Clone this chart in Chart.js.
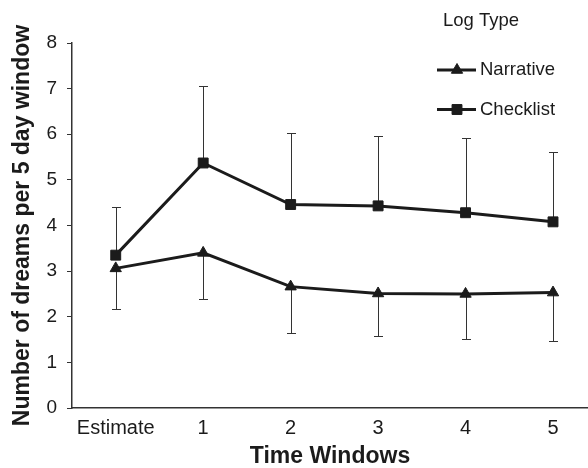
<!DOCTYPE html>
<html>
<head>
<meta charset="utf-8">
<script src="https://cdn.jsdelivr.net/npm/chart.js@4"></script>
<style>
html, body { margin: 0; padding: 0; background: #fff; }
</style>
</head>
<body>
<canvas id="dreamChart" width="588" height="468"></canvas>
<script>
const categories = ['Estimate', '1', '2', '3', '4', '5'];
const narrative = [3.06, 3.40, 2.66, 2.51, 2.50, 2.53];
const narrativeLow = [2.16, 2.38, 1.64, 1.58, 1.51, 1.47];
const checklist = [3.35, 5.37, 4.46, 4.43, 4.28, 4.08];
const checklistHigh = [4.41, 7.05, 6.02, 5.96, 5.91, 5.62];
const yTicks = [0, 1, 2, 3, 4, 5, 6, 7, 8];

const ink = '#1b1b1b';
const family = '"Liberation Sans", Arial, sans-serif';

// error bars: one-sided whiskers drawn through the chart scales
const errorBars = {
    id: 'errorBars',
    beforeDatasetsDraw(chart) {
        const { ctx, scales: { x, y } } = chart;
        ctx.save();
        ctx.strokeStyle = '#333';
        ctx.lineWidth = 1;
        chart.data.datasets.forEach(ds => {
            ds.errEnd.forEach((v, i) => {
                const px = Math.round(x.getPixelForValue(i)) + 0.5;
                const y0 = y.getPixelForValue(ds.data[i].y);
                const y1 = Math.round(y.getPixelForValue(v)) + 0.5;
                ctx.beginPath();
                ctx.moveTo(px, y0);
                ctx.lineTo(px, y1);
                ctx.moveTo(px - 4.5, y1);
                ctx.lineTo(px + 4.5, y1);
                ctx.stroke();
            });
        });
        ctx.restore();
    }
};

// legend drawn in the top right corner like the original figure
const logLegend = {
    id: 'logLegend',
    afterDraw(chart) {
        const ctx = chart.ctx;
        ctx.save();
        ctx.font = '18.5px ' + family;
        ctx.textBaseline = 'middle';
        ctx.fillStyle = ink;
        ctx.fillText('Log Type', 443, 21);
        chart.data.datasets.forEach((ds, i) => {
            const yy = 70 + i * 39.5;
            ctx.strokeStyle = ds.borderColor;
            ctx.fillStyle = ds.backgroundColor;
            ctx.lineWidth = 3;
            ctx.beginPath();
            ctx.moveTo(437, yy);
            ctx.lineTo(476, yy);
            ctx.stroke();
            ctx.lineWidth = 1;
            Chart.helpers.drawPoint(ctx, {
                pointStyle: ds.pointStyle,
                radius: ds.pointRadius,
                borderWidth: 1,
                rotation: 0
            }, 457, yy);
            ctx.fillStyle = ink;
            ctx.fillText(ds.label, 480, yy);
        });
        ctx.restore();
    }
};

const ctx = document.getElementById('dreamChart').getContext('2d');
const myChart = new Chart(ctx, {
    type: 'line',
    data: {
        datasets: [{
            label: 'Narrative',
            data: narrative.map((v, i) => ({ x: i, y: v })),
            errEnd: narrativeLow,
            borderColor: ink,
            backgroundColor: ink,
            borderWidth: 3,
            pointStyle: 'triangle',
            pointRadius: 6.5,
            pointBorderWidth: 1,
            tension: 0
        }, {
            label: 'Checklist',
            data: checklist.map((v, i) => ({ x: i, y: v })),
            errEnd: checklistHigh,
            borderColor: ink,
            backgroundColor: ink,
            borderWidth: 3,
            pointStyle: 'rect',
            pointRadius: 7,
            pointBorderWidth: 1,
            tension: 0
        }]
    },
    options: {
        responsive: false,
        animation: false,
        layout: { autoPadding: false, padding: { top: 43, right: 0, bottom: 0, left: 0 } },
        plugins: {
            legend: { display: false },
            tooltip: { enabled: false }
        },
        scales: {
            x: {
                type: 'linear',
                min: -0.5,
                max: 5.4,
                afterFit: s => { s.height = 60; },
                afterBuildTicks: s => {
                    s.ticks = categories.map((c, i) => ({ value: i }));
                    s.min = -0.5;
                    s.max = 5.4;
                },
                grid: { drawOnChartArea: false, drawTicks: false },
                border: { display: true, color: '#333', width: 1.5 },
                ticks: {
                    padding: 8,
                    color: ink,
                    font: { family: family, size: 20 },
                    callback: v => categories[v]
                },
                title: {
                    display: true,
                    text: 'Time Windows',
                    color: ink,
                    font: { family: family, size: 23, weight: 'bold', lineHeight: 1 },
                    padding: 0
                }
            },
            y: {
                min: 0,
                max: 8,
                afterFit: s => { s.width = 72; },
                afterBuildTicks: s => { s.ticks = yTicks.map(v => ({ value: v })); },
                grid: { drawOnChartArea: false, drawTicks: true, tickLength: 5, color: '#333' },
                border: { display: true, color: '#333', width: 1.5 },
                ticks: {
                    padding: 10,
                    color: ink,
                    font: { family: family, size: 19 }
                },
                title: {
                    display: true,
                    text: 'Number of dreams per 5 day window',
                    color: ink,
                    font: { family: family, size: 23, weight: 'bold', lineHeight: 1 },
                    padding: { top: 11, bottom: 0 }
                }
            }
        }
    },
    plugins: [errorBars, logLegend]
});
</script>
</body>
</html>
